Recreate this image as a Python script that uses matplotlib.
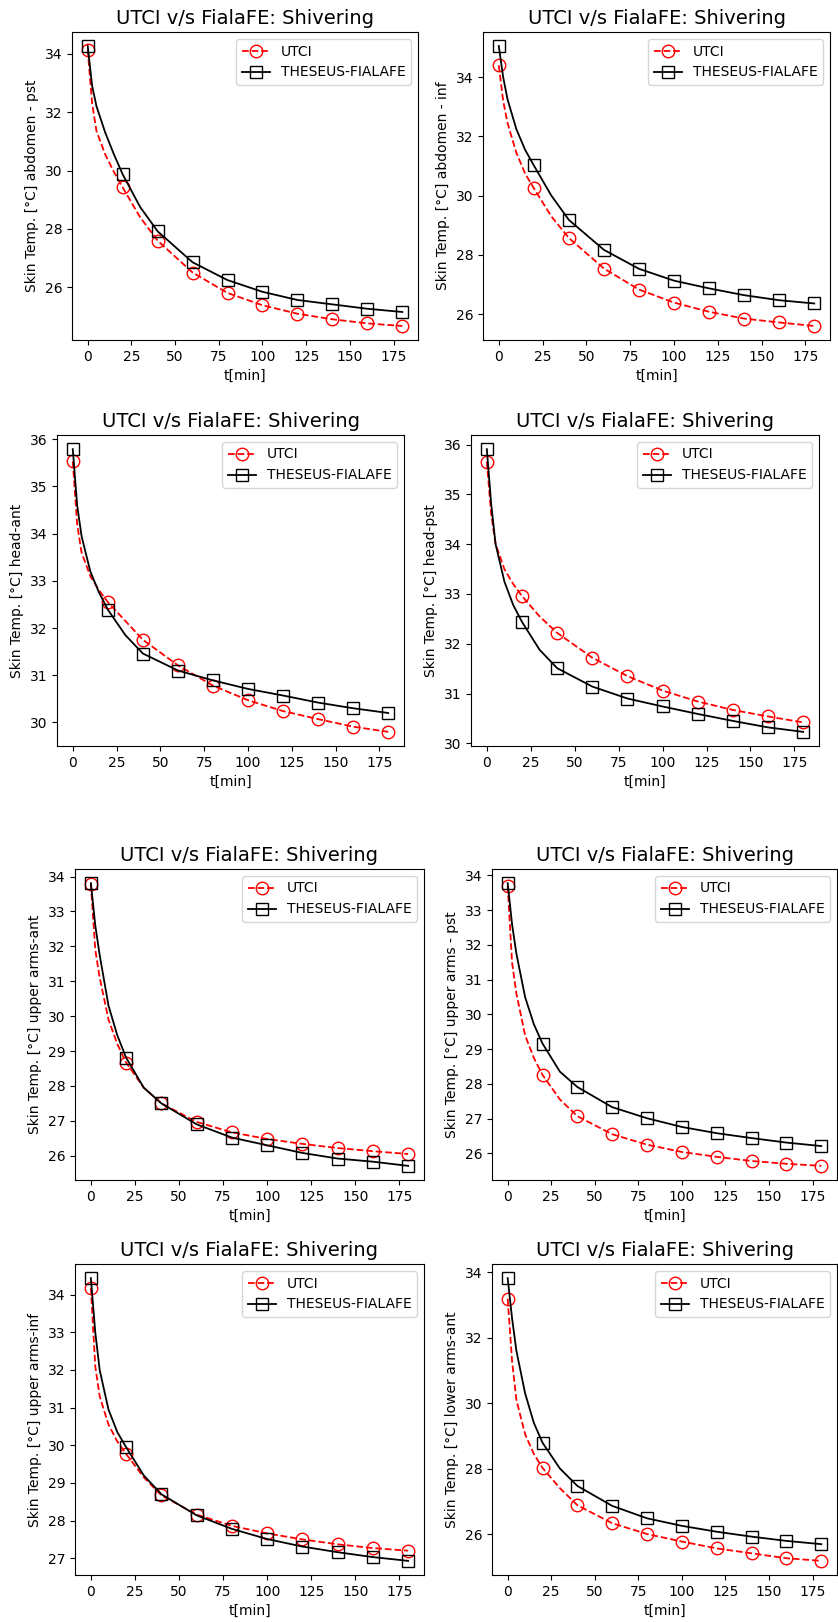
import matplotlib
matplotlib.use("Agg")
import matplotlib.pyplot as plt
from matplotlib.ticker import MultipleLocator

plt.rcParams['font.family'] = ['DejaVu Sans']

# time axis [min]; markers drawn every 20 min
t_min = [0, 2.5, 5, 10, 15, 20, 30, 40, 60, 80, 100, 120, 140, 160, 180]
marker_t = [0, 20, 40, 60, 80, 100, 120, 140, 160, 180]

# --- abdomen - pst
utci_abd_pst = [34.13, 32.3, 31.35, 30.55, 29.95, 29.42, 28.4, 27.60, 26.51, 25.81, 25.39, 25.10, 24.91, 24.77, 24.68]
fiala_abd_pst = [34.26, 32.9, 32.2, 31.3, 30.55, 29.87, 28.75, 27.92, 26.86, 26.25, 25.85, 25.57, 25.42, 25.27, 25.16]
# --- abdomen - inf
utci_abd_inf = [34.40, 33.2, 32.45, 31.45, 30.75, 30.25, 29.3, 28.57, 27.54, 26.83, 26.39, 26.08, 25.85, 25.72, 25.60]
fiala_abd_inf = [35.05, 34.0, 33.25, 32.25, 31.55, 31.02, 30.0, 29.18, 28.17, 27.53, 27.13, 26.87, 26.64, 26.47, 26.36]
# --- head-ant
utci_head_ant = [35.53, 34.2, 33.6, 33.1, 32.8, 32.55, 32.15, 31.75, 31.21, 30.78, 30.47, 30.24, 30.07, 29.91, 29.80]
fiala_head_ant = [35.79, 34.6, 33.95, 33.2, 32.75, 32.39, 31.85, 31.46, 31.10, 30.89, 30.71, 30.57, 30.42, 30.30, 30.20]
# --- head-pst
utci_head_pst = [35.66, 34.6, 34.0, 33.5, 33.2, 32.96, 32.55, 32.22, 31.72, 31.35, 31.06, 30.84, 30.67, 30.54, 30.42]
fiala_head_pst = [35.91, 34.8, 34.0, 33.25, 32.78, 32.44, 31.88, 31.51, 31.14, 30.90, 30.74, 30.59, 30.45, 30.32, 30.23]
# --- upper arms-ant
utci_uarm_ant = [33.78, 31.9, 31.1, 29.9, 29.2, 28.67, 27.95, 27.50, 26.97, 26.67, 26.48, 26.34, 26.22, 26.13, 26.05]
fiala_uarm_ant = [33.81, 32.6, 31.75, 30.3, 29.45, 28.81, 27.95, 27.50, 26.90, 26.52, 26.30, 26.08, 25.92, 25.83, 25.71]
# --- upper arms - pst
utci_uarm_pst = [33.70, 31.5, 30.6, 29.4, 28.75, 28.26, 27.55, 27.07, 26.55, 26.25, 26.04, 25.90, 25.78, 25.70, 25.64]
fiala_uarm_pst = [33.78, 32.6, 31.75, 30.5, 29.72, 29.16, 28.35, 27.91, 27.33, 27.01, 26.76, 26.58, 26.44, 26.31, 26.21]
# --- upper arms-inf
utci_uarm_inf = [34.18, 32.1, 31.3, 30.55, 30.1, 29.77, 29.15, 28.67, 28.16, 27.86, 27.66, 27.50, 27.37, 27.27, 27.20]
fiala_uarm_inf = [34.44, 33.0, 32.0, 30.95, 30.35, 29.95, 29.2, 28.70, 28.14, 27.78, 27.51, 27.31, 27.16, 27.03, 26.93]
# --- lower arms-ant
utci_larm_ant = [33.19, 31.3, 30.1, 29.05, 28.45, 28.02, 27.4, 26.88, 26.33, 26.00, 25.77, 25.56, 25.41, 25.26, 25.18]
fiala_larm_ant = [33.82, 32.6, 31.6, 30.3, 29.4, 28.79, 28.0, 27.47, 26.86, 26.48, 26.25, 26.07, 25.92, 25.79, 25.69]

ylabels = [
    "Skin Temp. [°C] abdomen - pst",
    "Skin Temp. [°C] abdomen - inf",
    "Skin Temp. [°C] head-ant",
    "Skin Temp. [°C] head-pst",
    "Skin Temp. [°C] upper arms-ant",
    "Skin Temp. [°C] upper arms - pst",
    "Skin Temp. [°C] upper arms-inf",
    "Skin Temp. [°C] lower arms-ant",
]
title = "UTCI v/s FialaFE: Shivering"
series_utci = [utci_abd_pst, utci_abd_inf, utci_head_ant, utci_head_pst,
               utci_uarm_ant, utci_uarm_pst, utci_uarm_inf, utci_larm_ant]
series_fiala = [fiala_abd_pst, fiala_abd_inf, fiala_head_ant, fiala_head_pst,
                fiala_uarm_ant, fiala_uarm_pst, fiala_uarm_inf, fiala_larm_ant]
ystep = [2, 2, 1, 1, 1, 1, 1, 2]

W, H = 838, 1622
# axes boxes in pixels: (left, top, right, bottom)
boxes = [
    (72, 32, 418, 340), (483, 32, 830, 340),
    (57, 435, 404, 746), (471, 435, 819, 746),
    (75, 869, 424, 1180), (492, 869, 837, 1180),
    (75, 1264, 424, 1575), (492, 1264, 837, 1575),
]

marker_idx = [t_min.index(m) for m in marker_t]

fig = plt.figure(figsize=(W / 100, H / 100), dpi=100)
for i in range(8):
    l, t, r, b = boxes[i]
    ax = fig.add_axes([l / W, 1 - b / H, (r - l) / W, (b - t) / H])
    ax.plot(t_min, series_utci[i], color='red', linestyle='--', lw=1.3,
            marker='o', ms=9, mfc='none', mec='red', markevery=marker_idx, label='UTCI')
    ax.plot(t_min, series_fiala[i], color='black', linestyle='-', lw=1.3,
            marker='s', ms=9, mfc='none', mec='black', markevery=marker_idx,
            label='THESEUS-FIALAFE')
    ax.set_title(title, fontsize=14)
    ax.set_ylabel(ylabels[i], fontsize=10)
    ax.set_xlabel("t[min]", fontsize=10)
    ax.xaxis.set_major_locator(MultipleLocator(25))
    ax.yaxis.set_major_locator(MultipleLocator(ystep[i]))
    ax.tick_params(labelsize=10)
    ax.legend(loc='upper right', fontsize=10)

fig.savefig("out.png", dpi=100)
